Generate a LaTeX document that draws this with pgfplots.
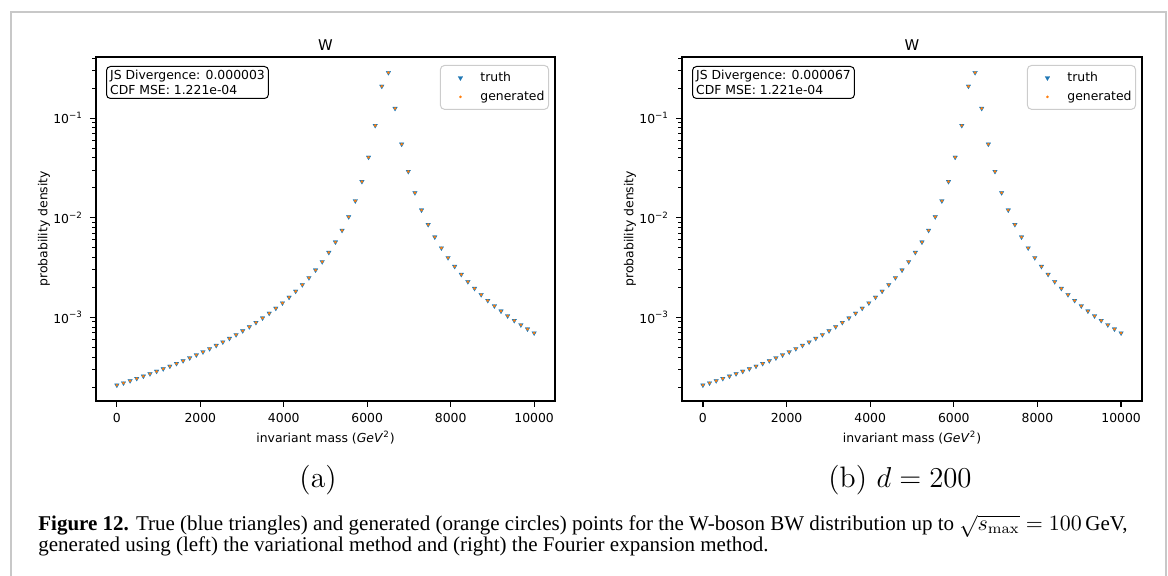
\documentclass[border=0pt]{standalone}
\usepackage{fontspec}
\usepackage{pgfplots}
\pgfplotsset{compat=1.18}
\usepackage{pgfplotstable}
\newfontfamily\dv{DejaVu Sans}
\newfontfamily\capfont{Liberation Serif}
\definecolor{mplblue}{HTML}{1F77B4}
\definecolor{mplorange}{HTML}{FF7F0E}
\definecolor{framegray}{HTML}{C8C8C8}
\newcommand\tfont{\dv\fontsize{6.2}{7.6}\selectfont}

% W-boson BW points, s in GeV^2; truth and generated coincide at this scale
\pgfplotstableread{
x        truth       gen
0        2.0889e-4   2.0889e-4
158.73   2.1953e-4   2.1953e-4
317.46   2.3101e-4   2.3101e-4
476.19   2.4341e-4   2.4341e-4
634.92   2.5683e-4   2.5683e-4
793.65   2.7140e-4   2.7140e-4
952.38   2.8724e-4   2.8724e-4
1111.11  3.0451e-4   3.0451e-4
1269.84  3.2339e-4   3.2339e-4
1428.57  3.4407e-4   3.4407e-4
1587.30  3.6681e-4   3.6681e-4
1746.03  3.9187e-4   3.9187e-4
1904.76  4.1960e-4   4.1960e-4
2063.49  4.5037e-4   4.5037e-4
2222.22  4.8465e-4   4.8465e-4
2380.95  5.2300e-4   5.2300e-4
2539.68  5.6608e-4   5.6608e-4
2698.41  6.1472e-4   6.1472e-4
2857.14  6.6989e-4   6.6989e-4
3015.87  7.3284e-4   7.3284e-4
3174.60  8.0507e-4   8.0507e-4
3333.33  8.8854e-4   8.8854e-4
3492.06  9.8567e-4   9.8567e-4
3650.79  1.0996e-3   1.0996e-3
3809.52  1.2345e-3   1.2345e-3
3968.25  1.3958e-3   1.3958e-3
4126.98  1.5909e-3   1.5909e-3
4285.71  1.8297e-3   1.8297e-3
4444.44  2.1266e-3   2.1266e-3
4603.17  2.5017e-3   2.5017e-3
4761.90  2.9853e-3   2.9853e-3
4920.63  3.6233e-3   3.6233e-3
5079.37  4.4889e-3   4.4889e-3
5238.10  5.7035e-3   5.7035e-3
5396.83  7.4819e-3   7.4819e-3
5555.56  1.0230e-2   1.0230e-2
5714.29  1.4789e-2   1.4789e-2
5873.02  2.3121e-2   2.3121e-2
6031.75  4.0559e-2   4.0559e-2
6190.48  8.4539e-2   8.4539e-2
6349.21  0.20956     0.20956
6507.94  0.28701     0.28701
6666.67  0.12553     0.12553
6825.40  5.4893e-2   5.4893e-2
6984.13  2.9207e-2   2.9207e-2
7142.86  1.7848e-2   1.7848e-2
7301.59  1.1963e-2   1.1963e-2
7460.32  8.5531e-3   8.5531e-3
7619.05  6.4096e-3   6.4096e-3
7777.78  4.9780e-3   4.9780e-3
7936.51  3.9758e-3   3.9758e-3
8095.24  3.2475e-3   3.2475e-3
8253.97  2.7019e-3   2.7019e-3
8412.70  2.2828e-3   2.2828e-3
8571.43  1.9540e-3   1.9540e-3
8730.16  1.6913e-3   1.6913e-3
8888.89  1.4782e-3   1.4782e-3
9047.62  1.3029e-3   1.3029e-3
9206.35  1.1570e-3   1.1570e-3
9365.08  1.0343e-3   1.0343e-3
9523.81  9.3005e-4   9.3005e-4
9682.54  8.4082e-4   8.4082e-4
9841.27  7.6383e-4   7.6383e-4
10000    6.9695e-4   6.9695e-4
}\bwdata

\tikzset{
  infobox/.style={draw=black, line width=0.5pt, rounded corners=2pt, fill=white,
    anchor=north west, align=left, inner sep=1.8pt, font=\tfont, xshift=5pt, yshift=-4.5pt},
}

\begin{document}
\begin{tikzpicture}
\path[use as bounding box] (0,0) rectangle (584pt,-288pt);
\draw[framegray, line width=1pt] (5.5pt,-292pt) -- (5.5pt,-6pt) -- (583pt,-6pt) -- (583pt,-292pt);

\begin{axis}[
  at={(48pt,-28.5pt)}, anchor=north west,
  scale only axis, width=229.5pt, height=171.85pt,
  ymode=log, xmin=-500, xmax=10500, ymin=1.456e-4, ymax=0.4121,
  scaled x ticks=false,
  xtick={0,2000,4000,6000,8000,10000},
  xticklabels={0,2000,4000,6000,8000,10000},
  ytick={1e-3,1e-2,1e-1},
  yticklabels={10\textsuperscript{−3},10\textsuperscript{−2},10\textsuperscript{−1}},
  minor ytick={2e-4,3e-4,4e-4,5e-4,6e-4,7e-4,8e-4,9e-4,2e-3,3e-3,4e-3,5e-3,6e-3,7e-3,8e-3,9e-3,2e-2,3e-2,4e-2,5e-2,6e-2,7e-2,8e-2,9e-2,2e-1,3e-1,4e-1},
  xtick pos=bottom, ytick pos=left, tick align=outside,
  major tick length=3pt, minor tick length=1.8pt,
  every major tick/.append style={line width=0.6pt, black},
  every minor tick/.append style={line width=0.45pt, black},
  axis line style={line width=1pt},
  tick label style={font=\tfont},
  title={W},
  title style={font=\dv\fontsize{7.4}{8}\selectfont, at={(rel axis cs:0.5,1)}, anchor=base, yshift=-3pt},
  xlabel={invariant mass (\textit{GeV}\textsuperscript{2})},
  xlabel style={font=\tfont, at={(rel axis cs:0.5,0)}, anchor=center, yshift=-18.2pt},
  legend style={at={(rel axis cs:1,1)}, anchor=north east, xshift=-3pt, yshift=-4pt,
    draw=black!20, line width=0.5pt, rounded corners=2pt, fill=white,
    font=\tfont, inner xsep=1pt, inner ysep=2.2pt, row sep=1.5pt, column sep=0pt,
    nodes={inner sep=1pt, text height=4.7pt, text depth=1.3pt},
    cells={anchor=west}},
]
\addplot[only marks, color=mplblue, mark=triangle*, mark size=1.35pt,
  mark options={rotate=180, draw=mplblue, fill=mplblue, line width=0.1pt},
  legend image code/.code={\path[draw=none, fill=none] (0pt,-3pt) rectangle (18pt,3pt);
    \draw[mark repeat=2,mark phase=2] plot coordinates {(0pt,0pt) (9pt,0pt) (18pt,0pt)};}]
  table[x=x, y=truth] {\bwdata};
\addlegendentry{truth}
\addplot[only marks, color=mplorange, mark=*, mark size=0.6pt,
  mark options={draw=mplorange, fill=mplorange, line width=0.1pt},
  legend image code/.code={\path[draw=none, fill=none] (0pt,-3pt) rectangle (18pt,3pt);
    \draw[mark repeat=2,mark phase=2] plot coordinates {(0pt,0pt) (9pt,0pt) (18pt,0pt)};}]
  table[x=x, y=gen] {\bwdata};
\addlegendentry{generated}
\node[infobox] at (rel axis cs:0,1) {JS Divergence: 0.000003\\CDF MSE: 1.221e-04};
\end{axis}

\begin{axis}[
  at={(341pt,-28.5pt)}, anchor=north west,
  scale only axis, width=230pt, height=171.85pt,
  ymode=log, xmin=-500, xmax=10500, ymin=1.456e-4, ymax=0.4121,
  scaled x ticks=false,
  xtick={0,2000,4000,6000,8000,10000},
  xticklabels={0,2000,4000,6000,8000,10000},
  ytick={1e-3,1e-2,1e-1},
  yticklabels={10\textsuperscript{−3},10\textsuperscript{−2},10\textsuperscript{−1}},
  minor ytick={2e-4,3e-4,4e-4,5e-4,6e-4,7e-4,8e-4,9e-4,2e-3,3e-3,4e-3,5e-3,6e-3,7e-3,8e-3,9e-3,2e-2,3e-2,4e-2,5e-2,6e-2,7e-2,8e-2,9e-2,2e-1,3e-1,4e-1},
  xtick pos=bottom, ytick pos=left, tick align=outside,
  major tick length=3pt, minor tick length=1.8pt,
  every major tick/.append style={line width=0.6pt, black},
  every minor tick/.append style={line width=0.45pt, black},
  axis line style={line width=1pt},
  tick label style={font=\tfont},
  title={W},
  title style={font=\dv\fontsize{7.4}{8}\selectfont, at={(rel axis cs:0.5,1)}, anchor=base, yshift=-3pt},
  xlabel={invariant mass (\textit{GeV}\textsuperscript{2})},
  xlabel style={font=\tfont, at={(rel axis cs:0.5,0)}, anchor=center, yshift=-18.2pt},
  legend style={at={(rel axis cs:1,1)}, anchor=north east, xshift=-3pt, yshift=-4pt,
    draw=black!20, line width=0.5pt, rounded corners=2pt, fill=white,
    font=\tfont, inner xsep=1pt, inner ysep=2.2pt, row sep=1.5pt, column sep=0pt,
    nodes={inner sep=1pt, text height=4.7pt, text depth=1.3pt},
    cells={anchor=west}},
]
\addplot[only marks, color=mplblue, mark=triangle*, mark size=1.35pt,
  mark options={rotate=180, draw=mplblue, fill=mplblue, line width=0.1pt},
  legend image code/.code={\path[draw=none, fill=none] (0pt,-3pt) rectangle (18pt,3pt);
    \draw[mark repeat=2,mark phase=2] plot coordinates {(0pt,0pt) (9pt,0pt) (18pt,0pt)};}]
  table[x=x, y=truth] {\bwdata};
\addlegendentry{truth}
\addplot[only marks, color=mplorange, mark=*, mark size=0.6pt,
  mark options={draw=mplorange, fill=mplorange, line width=0.1pt},
  legend image code/.code={\path[draw=none, fill=none] (0pt,-3pt) rectangle (18pt,3pt);
    \draw[mark repeat=2,mark phase=2] plot coordinates {(0pt,0pt) (9pt,0pt) (18pt,0pt)};}]
  table[x=x, y=gen] {\bwdata};
\addlegendentry{generated}
\node[infobox] at (rel axis cs:0,1) {JS Divergence: 0.000067\\CDF MSE: 1.221e-04};
\end{axis}

\node[rotate=90, font=\tfont] at (22pt,-114.4pt) {probability density};
\node[rotate=90, font=\tfont] at (315pt,-114.4pt) {probability density};

\node[font=\fontsize{14.8}{17}\selectfont] at (159pt,-240pt) {(a)};
\node[font=\fontsize{14.8}{17}\selectfont] at (450pt,-240pt) {(b) $d=200$};

\node[anchor=base west, inner sep=0, font=\capfont\fontsize{10.5}{10.5}\selectfont] at (19pt,-265.3pt)
  {\textbf{Figure 12.} True (blue triangles) and generated (orange circles) points for the W-boson BW distribution up to $\sqrt{s_{\mathrm{max}}}=100\,$GeV,};
\node[anchor=base west, inner sep=0, font=\capfont\fontsize{10.5}{10.5}\selectfont] at (19pt,-275.8pt)
  {generated using (left) the variational method and (right) the Fourier expansion method.};
\end{tikzpicture}
\end{document}
